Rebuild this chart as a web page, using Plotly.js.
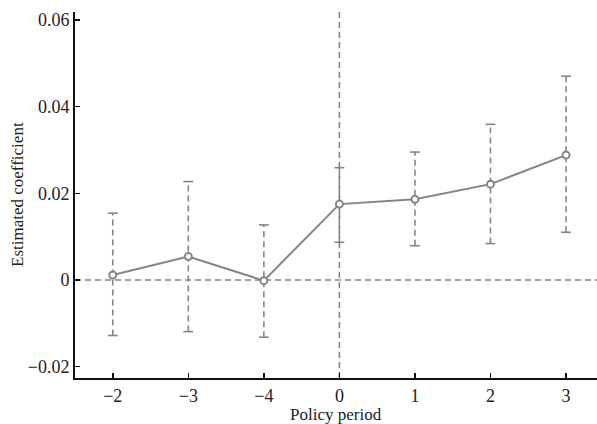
<!DOCTYPE html>
<html>
<head>
<meta charset="utf-8">
<script src="https://cdn.plot.ly/plotly-3.0.1.min.js"></script>
<style>html,body{margin:0;padding:0;background:#fff;}#chart{width:597px;height:424px;}</style>
</head>
<body>
<div id="chart"></div>
<script>
const categories = ["-2", "-3", "-4", "0", "1", "2", "3"];
const tickLabels = ["\u22122", "\u22123", "\u22124", "0", "1", "2", "3"];
const coef = [0.00115, 0.0054, -0.00015, 0.0175, 0.0186, 0.0221, 0.0288];
const upper = [0.0154, 0.0227, 0.0127, 0.0259, 0.0295, 0.0359, 0.0470];
const lower = [-0.0128, -0.0119, -0.0132, 0.0087, 0.0079, 0.0084, 0.0110];
const yTickVals = [-0.02, 0, 0.02, 0.04, 0.06];
const yTickText = ["\u22120.02", "0", "0.02", "0.04", "0.06"];
const policyStart = "0";
const xTitle = "Policy period";
const yTitle = "Estimated coefficient";

const gray = "#858585";
const ebX = [], ebY = [];
categories.forEach((c, i) => { ebX.push(c, c, null); ebY.push(lower[i], upper[i], null); });
const capX = categories.concat(categories);
const capY = lower.concat(upper);
const policyIdx = categories.indexOf(policyStart);

const traces = [
  {x: ebX, y: ebY, type: "scatter", mode: "lines", hoverinfo: "skip",
   line: {color: gray, width: 1.6, dash: "6px,4px"}},
  {x: capX, y: capY, type: "scatter", mode: "markers", hoverinfo: "skip",
   marker: {symbol: "line-ew", size: 7, line: {color: gray, width: 1.6}}},
  {x: categories, y: coef, type: "scatter", mode: "lines+markers",
   line: {color: gray, width: 2},
   marker: {symbol: "circle", size: 7, color: "#ffffff", line: {color: gray, width: 2}}}
];

const fam = "Times New Roman";
const tf = {family: fam, size: 18, color: "#222"};
const titleFont = {family: fam, size: 17, color: "#222"};
const layout = {
  width: 597, height: 424,
  margin: {l: 75, r: 0, t: 12, b: 46},
  paper_bgcolor: "#fff", plot_bgcolor: "#fff",
  showlegend: false,
  font: tf,
  xaxis: {
    type: "category", range: [-0.5, 6.41],
    tickvals: categories, ticktext: tickLabels,
    ticks: "inside", ticklen: 5, tickwidth: 1.5, tickcolor: "#111",
    showline: true, linecolor: "#111", linewidth: 2,
    showgrid: false, zeroline: false,
    tickfont: tf, ticklabelstandoff: 0
  },
  yaxis: {
    range: [-0.0226, 0.0618],
    tickvals: yTickVals, ticktext: yTickText,
    ticks: "inside", ticklen: 5, tickwidth: 1.5, tickcolor: "#111",
    showline: true, linecolor: "#111", linewidth: 2,
    showgrid: false, zeroline: false,
    tickfont: tf
  },
  annotations: [
    {text: xTitle, xref: "paper", yref: "paper", x: 0.5, y: 0, xanchor: "center", yanchor: "top",
     yshift: -25, showarrow: false, font: titleFont},
    {text: yTitle, xref: "paper", yref: "paper", x: 0, y: 0.5, xanchor: "center", yanchor: "middle",
     xshift: -58, textangle: -90, showarrow: false, font: titleFont}
  ],
  shapes: [
    {type: "line", xref: "paper", x0: 0, x1: 1, yref: "y", y0: 0, y1: 0,
     line: {color: gray, width: 1.6, dash: "6px,4px"}, layer: "below"},
    {type: "line", xref: "x", x0: policyIdx, x1: policyIdx, yref: "paper", y0: 0, y1: 1,
     line: {color: gray, width: 1.6, dash: "6px,4px"}, layer: "below"}
  ]
};
Plotly.newPlot("chart", traces, layout, {staticPlot: true, displayModeBar: false});
</script>
</body>
</html>
